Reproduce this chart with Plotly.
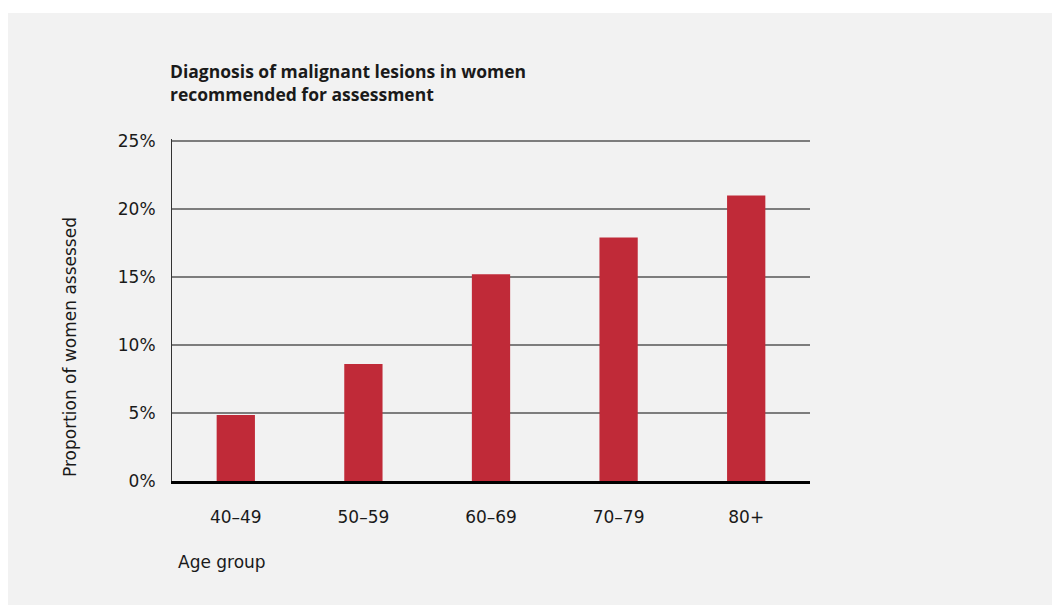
import plotly.graph_objects as go

categories = ["40–49", "50–59", "60–69", "70–79", "80+"]
values = [4.85, 8.6, 15.2, 17.9, 21.0]
y_ticks = [0, 5, 10, 15, 20, 25]
y_tick_labels = ["0%", "5%", "10%", "15%", "20%", "25%"]
y_max = 25.15

W, H = 1052, 605
L, R, T, B = 172, 810, 139, 481  # plot area pixels
pw, ph = R - L, B - T

def px(x):
    return (x - L) / pw

def py(y):
    return (B - y) / ph

FONT = "DejaVu Sans"
TXT = "#1a1a1a"
FS = 17

fig = go.Figure()
fig.add_trace(go.Bar(
    x=categories, y=values, width=0.3,
    marker=dict(color="#c02a38", line=dict(width=0)),
    hoverinfo="skip",
))

fig.update_layout(
    width=W, height=H,
    margin=dict(l=L, r=W - R, t=T, b=H - B, pad=0),
    paper_bgcolor="white",
    plot_bgcolor="rgba(0,0,0,0)",
    showlegend=False,
    font=dict(family=FONT, size=FS, color=TXT),
    shapes=[dict(type="rect", xref="paper", yref="paper",
                 x0=px(8), x1=px(W + 5), y0=py(H + 5), y1=py(13),
                 fillcolor="#f2f2f2", line=dict(width=0), layer="below")],
    annotations=[
        dict(text="<b>Diagnosis of malignant lesions in women<br>recommended for assessment</b>",
             xref="paper", yref="paper", x=px(168), y=py(57),
             xanchor="left", yanchor="top", align="left", showarrow=False,
             font=dict(family="Open Sans", size=17.5, color=TXT)),
        dict(text="Proportion of women assessed", textangle=-90,
             xref="paper", yref="paper", x=px(70), y=py(347),
             xanchor="center", yanchor="middle", showarrow=False,
             font=dict(family=FONT, size=FS, color=TXT)),
        dict(text="Age group", xref="paper", yref="paper", x=px(176), y=py(562),
             xanchor="left", yanchor="middle", showarrow=False,
             font=dict(family=FONT, size=FS, color=TXT)),
    ],
)

fig.update_yaxes(
    range=[0, y_max], tickvals=y_ticks, ticktext=y_tick_labels,
    showgrid=True, gridcolor="#7d7d7d", gridwidth=1.5,
    zeroline=False, showline=True, linecolor="#333333", linewidth=1,
    ticks="", ticklabelstandoff=12, fixedrange=True,
)
fig.update_xaxes(
    range=[-0.5, 4.5], showgrid=False, zeroline=False,
    showline=True, linecolor="black", linewidth=2.5, layer="above traces",
    ticks="", ticklabelstandoff=19, fixedrange=True,
)

fig.write_html("out.html", config={"displayModeBar": False})
